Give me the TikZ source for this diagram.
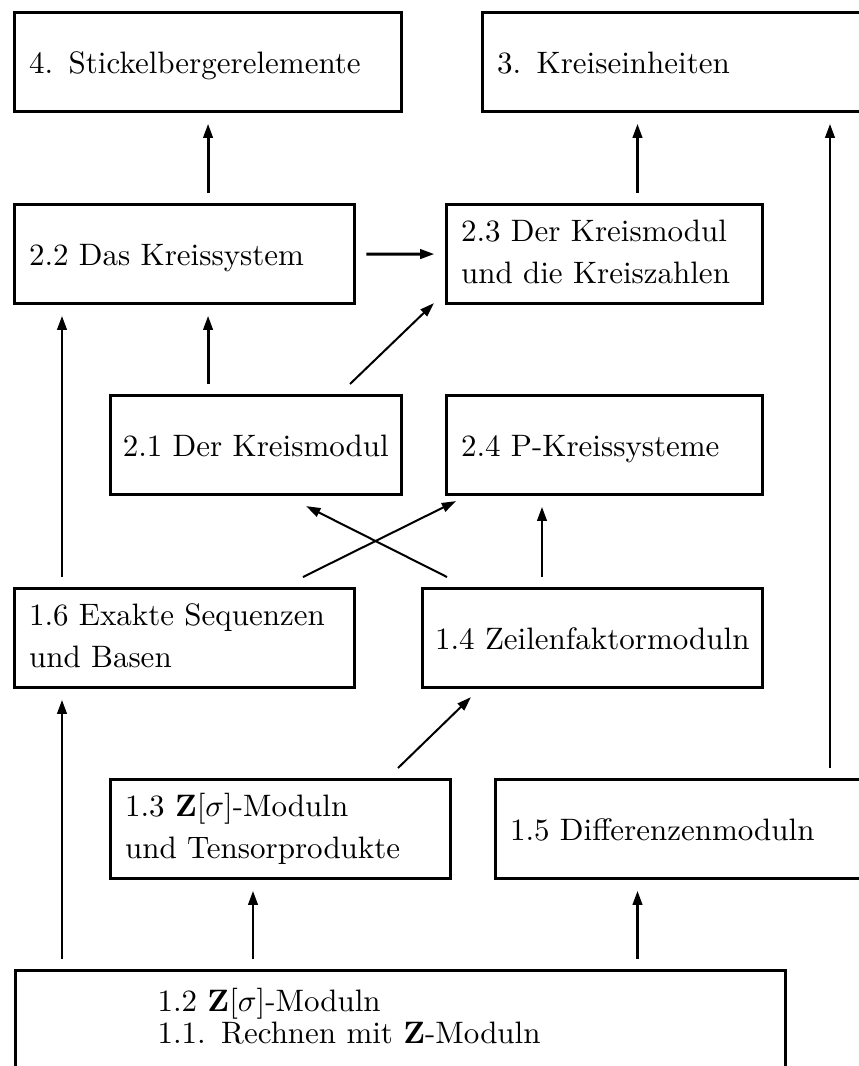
\documentclass[tikz,border=0pt]{standalone}
\usetikzlibrary{arrows.meta}
\newcommand\ohnetrennung{\hyphenpenalty 10000 \exhyphenpenalty 10000 }
\tikzset{
  modul/.style={draw, line width=1pt, anchor=north west, inner xsep=4.68pt, inner ysep=0pt, align=left, font=\fontsize{10}{13.55}\selectfont\ohnetrennung},
  einzeilig/.style={modul, text height=19.68pt, text depth=12.26pt},
  zweizeilig/.style={modul, text height=11.94pt, text depth=20pt},
  pfeil/.style={-{Triangle[length=4.6pt,width=3pt]}, line width=0.95pt, shorten <=3.3pt, shorten >=3.4pt},
  schraeg/.style={-{Triangle[length=4.6pt,width=3pt]}, line width=0.65pt}
}
\begin{document}
\begin{tikzpicture}[x=0.3226pt, y=-0.3226pt]
\pgfmathsetmacro{\breite}{858}
\pgfmathsetmacro{\hoehe}{1066}
\useasboundingbox (0,0) rectangle (\breite,\hoehe);
\coordinate (links) at (62,0);
\coordinate (spalte) at (253,0);
\coordinate (rechts) at (542,0);
\coordinate (kreis) at (637.5,0);
\coordinate (aussen) at (830,0);
\node[einzeilig, text width=115.5pt] (st4) at (13,11) {4. Stickelbergerelemente};
\node[einzeilig, text width=150pt] (ke3) at (481,11) {3. Kreiseinheiten};
\node[einzeilig, text width=100.3pt] (ks22) at (13,203) {2.2 Das Kreissystem};
\node[zweizeilig, text width=92.6pt] (km23) at (445,203) {2.3 Der Kreismodul\\und die Kreiszahlen};
\node[einzeilig, inner xsep=3.95pt, text width=86pt] (km21) at (109,394) {2.1 Der Kreismodul};
\node[einzeilig, text width=92.6pt] (pk24) at (445,394) {2.4 P-Kreissysteme};
\node[zweizeilig, text width=100.3pt] (es16) at (13,587) {1.6 Exakte Sequenzen\\und Basen};
\node[einzeilig, inner xsep=4.04pt, text width=101.6pt] (zf14) at (421,587) {1.4 Zeilenfaktormoduln};
\node[zweizeilig, text width=100.3pt] (zm13) at (109,778) {1.3 $\mathbf{Z}[\sigma]$-Moduln\\und Tensorprodukte};
\node[einzeilig, text width=150pt] (dm15) at (494,778) {1.5 Differenzenmoduln};
\node[modul, inner xsep=45.8pt, text width=156.8pt, text height=13.23pt, text depth=40pt, font=\fontsize{10}{10.4}\selectfont] (rz12) at (14,969) {1.2 $\mathbf{Z}[\sigma]$-Moduln\\1.1. Rechnen mit $\mathbf{Z}$-Moduln};
\draw[pfeil] (ks22.north -| st4) -- (st4.south);
\draw[pfeil] (km23.north -| kreis) -- (ke3.south -| kreis);
\draw[pfeil] (dm15.north -| aussen) -- (ke3.south -| aussen);
\draw[pfeil] (ks22) -- (km23);
\draw[pfeil] (km21.north -| st4) -- (ks22.south -| st4);
\draw[schraeg] ([shift={(241,-10)}]km21.north west) -- ([shift={(-11,-2)}]km23.south west);
\draw[pfeil] (es16.north -| links) -- (ks22.south -| links);
\draw[pfeil] (zf14.north -| rechts) -- (pk24.south -| rechts);
\draw[schraeg] ([shift={(290,-10)}]es16.north west) -- ([shift={(11,5)}]pk24.south west);
\draw[schraeg] ([shift={(26,-10)}]zf14.north west) -- ([shift={(-97,10)}]km21.south east);
\draw[schraeg] ([shift={(289,-10)}]zm13.north west) -- ([shift={(50,8)}]zf14.south west);
\draw[pfeil] (rz12.north -| links) -- (es16.south -| links);
\draw[pfeil] (rz12.north -| spalte) -- (zm13.south -| spalte);
\draw[pfeil] (rz12.north -| kreis) -- (dm15.south -| kreis);
\end{tikzpicture}
\end{document}
